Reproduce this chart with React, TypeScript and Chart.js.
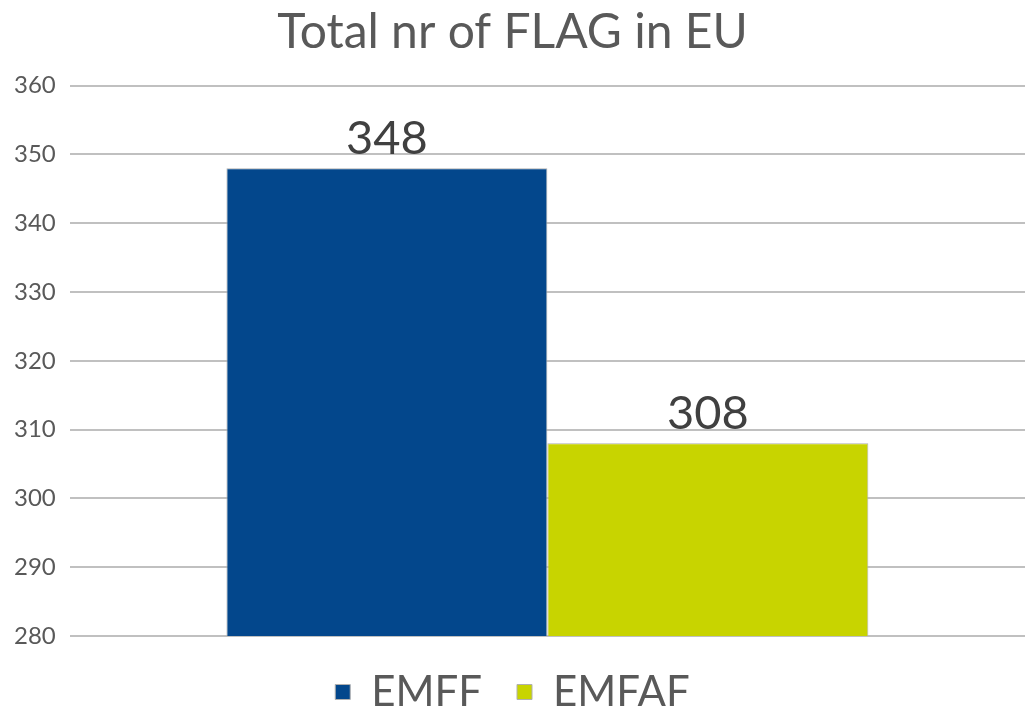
import React, { useEffect, useRef } from "react";
import { Chart, registerables } from "chart.js";

Chart.register(...registerables);

const categories = ["Total"];
const seriesNames = ["EMFF", "EMFAF"];
const seriesValues = [348, 308];
const seriesColors = ["#03478c", "#c8d400"];
const yTicks = { min: 280, max: 360, step: 10 };

const valueLabels = {
  id: "valueLabels",
  afterDatasetsDraw(chart: any) {
    const ctx = chart.ctx;
    ctx.save();
    ctx.font = "47px Lato";
    ctx.fillStyle = "#404040";
    ctx.textAlign = "center";
    ctx.textBaseline = "bottom";
    chart.data.datasets.forEach((ds: any, i: number) => {
      const meta = chart.getDatasetMeta(i);
      meta.data.forEach((bar: any, j: number) => {
        ctx.fillText(String(ds.data[j]), bar.x, bar.y - 6);
      });
    });
    ctx.restore();
  },
};

export default function App() {
  const ref = useRef<HTMLCanvasElement>(null);
  useEffect(() => {
    document.body.style.margin = "0";
    const chart = new Chart(ref.current!, {
      type: "bar",
      data: {
        labels: categories,
        datasets: seriesNames.map((name, i) => ({
          label: name,
          data: [seriesValues[i]],
          backgroundColor: seriesColors[i],
          borderColor: "#b0b0b0",
          borderWidth: 1,
          barPercentage: 1,
          categoryPercentage: 0.672,
        })),
      },
      options: {
        animation: false,
        responsive: false,
        layout: { padding: { left: 0, right: 0, top: 4, bottom: -9 } },
        plugins: {
          title: {
            display: true,
            text: "Total nr of FLAG in EU",
            color: "#595959",
            font: { family: "Lato", size: 48, weight: "normal" },
            padding: { top: 0, bottom: 24 },
          },
          legend: {
            position: "bottom",
            labels: {
              color: "#595959",
              font: { family: "Lato", size: 42 },
              boxWidth: 15,
              boxHeight: 15,
              padding: 35,
              useBorderRadius: false,
            },
          },
          tooltip: { enabled: false },
        },
        scales: {
          x: {
            display: false,
            grid: { display: false },
          },
          y: {
            min: yTicks.min,
            max: yTicks.max,
            border: { display: false },
            grid: { color: "#c0c0c0", lineWidth: 2, drawTicks: false },
            ticks: {
              stepSize: yTicks.step,
              color: "#595959",
              font: { family: "Lato", size: 24 },
              padding: 14,
            },
          },
        },
      },
      plugins: [valueLabels],
    });
    return () => chart.destroy();
  }, []);
  return (
    <div style={{ position: "fixed", left: 0, top: 0, width: 1025, height: 714, background: "#fff" }}>
      <canvas ref={ref} width={1025} height={714} />
    </div>
  );
}
